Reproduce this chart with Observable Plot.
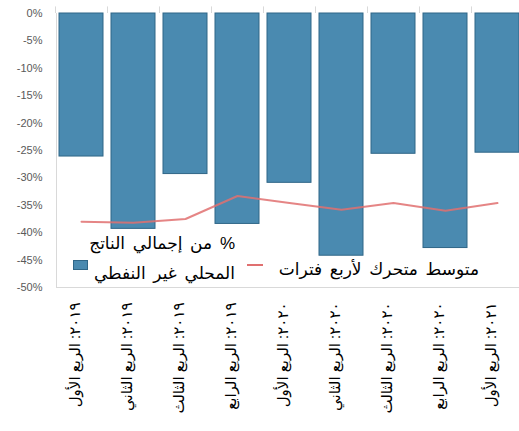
<!DOCTYPE html>
<html><head><meta charset="utf-8">
<script src="https://cdn.jsdelivr.net/npm/d3@7"></script>
<script src="https://cdn.jsdelivr.net/npm/@observablehq/plot@0.6"></script>
<style>
body{margin:0;background:#fff;font-family:"Liberation Sans","DejaVu Sans",sans-serif;}
#wrap{position:relative;width:519px;height:431px;overflow:hidden;}
.lg{position:absolute;font-size:17px;line-height:20px;color:#000;white-space:nowrap;direction:rtl;word-spacing:3px;}
</style></head>
<body><div id="wrap"></div>
<script>
const quarters = ["٢٠١٩: الربع الأول","٢٠١٩: الربع الثاني","٢٠١٩: الربع الثالث","٢٠١٩: الربع الرابع","٢٠٢٠: الربع الأول","٢٠٢٠: الربع الثاني","٢٠٢٠: الربع الثالث","٢٠٢٠: الربع الرابع","٢٠٢١: الربع الأول"];
const deficit = [-26.1,-39.3,-29.3,-38.4,-30.9,-44.2,-25.6,-42.8,-25.4];
const movingAvg = [-38.0,-38.2,-37.5,-33.3,-34.6,-35.8,-34.6,-36.0,-34.6];
const yTicks = [0,-5,-10,-15,-20,-25,-30,-35,-40,-45,-50];
const legendBar = ["% من إجمالي الناتج","المحلي غير النفطي"];
const legendLine = "متوسط متحرك لأربع فترات";

const data = quarters.map((q,i)=>({q, v:deficit[i], ma:movingAvg[i]}));

const chart = Plot.plot({
  width: 519, height: 431,
  marginLeft: 56, marginRight: -4, marginTop: 13, marginBottom: 144,
  style: {fontFamily: '"Liberation Sans","DejaVu Sans",sans-serif', background: "#fff", overflow: "visible"},
  x: {domain: quarters, paddingInner: 0.15, paddingOuter: 0},
  y: {domain: [-50, 0]},
  marks: [
    Plot.ruleY([-50], {stroke: "#d9d9d9"}),
    Plot.ruleX([quarters[0]], {x: d=>d, dx: -25, y1: 0, y2: -50, stroke: "#d9d9d9"}),
    Plot.ruleX(quarters, {x: d=>d, dx: -26, y1: 0, y2: 1.2, stroke: "#d9d9d9"}),
    Plot.barY(data, {x: "q", y: "v", fill: "#4a8ab0", stroke: "#2f6687", strokeWidth: 1}),
    Plot.lineY(data, {x: "q", y: "ma", stroke: "#e07070", strokeWidth: 2, strokeOpacity: 0.85}),
    Plot.axisY({ticks: yTicks, tickSize: 0, tickPadding: 14, tickFormat: d => d + "%", fontSize: 11, color: "#595959"}),
    Plot.axisX({tickSize: 0, tickRotate: -90, tickPadding: 15, fontSize: 15, color: "#000", dx: -6, label: null, y: -50})
  ]
});
const wrap = document.getElementById("wrap");
wrap.appendChild(chart);

function addDiv(html, style){const d=document.createElement("div");d.className="lg";d.innerHTML=html;Object.assign(d.style,style);wrap.appendChild(d);}
addDiv(legendBar[0], {right: (519-235)+"px", top: "234px"});
addDiv(legendBar[1], {right: (519-235)+"px", top: "264px"});
addDiv("", {left:"73px", top:"260px", width:"15px", height:"10px", background:"#4a8ab0", border:"1px solid #2f6687", boxSizing:"border-box"});
addDiv("", {left:"247px", top:"264px", width:"16px", height:"2px", background:"#e07070"});
addDiv(legendLine, {right: (519-479)+"px", top: "260px"});
</script></body></html>
